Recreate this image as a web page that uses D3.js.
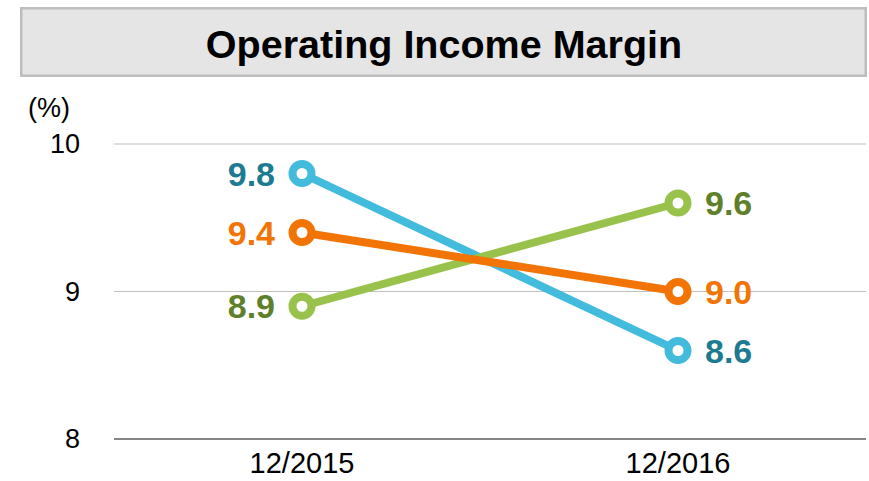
<!DOCTYPE html>
<html>
<head>
<meta charset="utf-8">
<script src="https://cdn.jsdelivr.net/npm/d3@7"></script>
<style>
  body { margin: 0; background: #fff; }
  text { font-family: "Liberation Sans", Arial, sans-serif; }
</style>
</head>
<body>
<div id="chart"></div>
<script>
var periods = ["12/2015", "12/2016"];
var yTicks = [8, 9, 10];
// drawn in this order: blue under green under orange
var seriesNames = ["blue", "green", "orange"];
var blueValues = [9.8, 8.6];
var greenValues = [8.9, 9.6];
var orangeValues = [9.4, 9.0];

var lineColors = {blue: "#43bbdd", green: "#99c24d", orange: "#f27405"};
var labelColors = {blue: "#1d7b91", green: "#5f802b", orange: "#f27405"};
var valuesOf = {blue: blueValues, green: greenValues, orange: orangeValues};

var width = 869, height = 481;
var svg = d3.select("#chart").append("svg")
    .attr("width", width)
    .attr("height", height);

// title box
svg.append("rect")
    .attr("x", 21.25).attr("y", 8.25)
    .attr("width", 844.5).attr("height", 67.5)
    .attr("fill", "#e5e5e5")
    .attr("stroke", "#bdbdbd")
    .attr("stroke-width", 2.5);
svg.append("text")
    .attr("x", 444).attr("y", 58)
    .attr("text-anchor", "middle")
    .style("font-size", "39.5px")
    .style("font-weight", "bold")
    .attr("fill", "#000")
    .text("Operating Income Margin");

var x = d3.scaleBand().domain(periods).range([114, 866]);
var y = d3.scaleLinear().domain([8, 10]).range([439, 144]);

// gridlines
svg.append("g").selectAll("line")
  .data(yTicks)
  .join("line")
    .attr("x1", 114).attr("x2", 866)
    .attr("y1", function(d) { return y(d); })
    .attr("y2", function(d) { return y(d); })
    .attr("stroke", function(d) { return d == 8 ? "#868686" : "#c0c0c0"; })
    .attr("stroke-width", function(d) { return d == 8 ? 2 : 1.2; });

svg.append("g").selectAll("text")
  .data(yTicks)
  .join("text")
    .attr("x", 80)
    .attr("y", function(d) { return y(d); })
    .attr("dy", "0.35em")
    .attr("text-anchor", "end")
    .style("font-size", "27px")
    .attr("fill", "#000")
    .text(function(d) { return d; });

svg.append("text")
    .attr("x", 49).attr("y", 108)
    .attr("dy", "0.35em")
    .attr("text-anchor", "middle")
    .style("font-size", "27px")
    .text("(%)");

svg.append("g").selectAll("text")
  .data(periods)
  .join("text")
    .attr("x", function(d) { return x(d) + x.bandwidth() / 2; })
    .attr("y", 463)
    .attr("dy", "0.35em")
    .attr("text-anchor", "middle")
    .style("font-size", "29px")
    .text(function(d) { return d; });

var cx = function(i) { return x(periods[i]) + x.bandwidth() / 2; };
var line = d3.line()
    .x(function(d, i) { return cx(i); })
    .y(function(d) { return y(d); });

seriesNames.forEach(function(name) {
  var vals = valuesOf[name];
  var g = svg.append("g");
  g.append("path")
    .attr("d", line(vals))
    .attr("fill", "none")
    .attr("stroke", lineColors[name])
    .attr("stroke-width", 8);
  g.selectAll("circle")
    .data(vals)
    .join("circle")
      .attr("cx", function(d, i) { return cx(i); })
      .attr("cy", function(d) { return y(d); })
      .attr("r", 9.5)
      .attr("fill", "#fff")
      .attr("stroke", lineColors[name])
      .attr("stroke-width", 8);
  g.selectAll("text")
    .data(vals)
    .join("text")
      .attr("x", function(d, i) { return i == 0 ? cx(i) - 27 : cx(i) + 27; })
      .attr("y", function(d) { return y(d); })
      .attr("dy", "0.36em")
      .attr("text-anchor", function(d, i) { return i == 0 ? "end" : "start"; })
      .style("font-size", "34px")
      .style("font-weight", "bold")
      .attr("fill", labelColors[name])
      .text(function(d) { return d.toFixed(1); });
});
</script>
</body>
</html>
